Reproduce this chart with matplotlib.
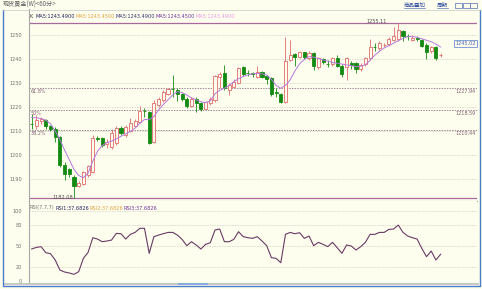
import matplotlib
matplotlib.use('Agg')
import matplotlib.pyplot as plt
from matplotlib.patches import Rectangle
from matplotlib.lines import Line2D

# 60-minute gold candles
opens = [1213.1, 1212.0, 1214.0, 1214.5, 1212.0, 1211.0, 1207.5, 1196.0, 1194.0, 1191.0,
         1187.0, 1188.0, 1191.5, 1193.0, 1207.0, 1207.0, 1204.6, 1203.5, 1204.9, 1211.4,
         1208.3, 1210.1, 1212.1, 1213.9, 1218.5, 1217.8, 1205.5, 1220.8, 1222.9, 1225.4,
         1227.5, 1227.1, 1225.4, 1223.3, 1220.5, 1223.3, 1221.5, 1219.2, 1221.8, 1222.9,
         1232.6, 1234.0, 1227.1, 1228.5, 1229.9, 1236.8, 1234.2, 1234.0, 1232.6, 1234.5,
         1232.9, 1232.0, 1226.2, 1225.4, 1222.2, 1239.6, 1242.0, 1241.0, 1242.8, 1240.3,
         1242.4, 1236.8, 1239.9, 1238.0, 1237.9, 1240.3, 1237.2, 1236.8, 1238.2, 1238.2,
         1235.8, 1237.8, 1240.3, 1245.0, 1244.5, 1245.7, 1246.1, 1247.9, 1248.3, 1251.7,
         1249.7, 1247.9, 1248.6, 1247.9, 1245.8, 1243.3, 1244.9, 1241.6]
closes = [1213.0, 1214.5, 1215.0, 1212.0, 1211.0, 1207.5, 1196.0, 1192.0, 1192.0, 1187.0,
          1188.5, 1193.0, 1195.5, 1207.0, 1206.5, 1204.0, 1205.4, 1209.2, 1211.1, 1209.0,
          1211.8, 1213.2, 1214.2, 1218.5, 1218.3, 1205.1, 1221.5, 1223.3, 1226.4, 1227.4,
          1227.4, 1225.4, 1223.3, 1220.5, 1223.3, 1221.5, 1219.0, 1221.9, 1223.3, 1232.9,
          1233.8, 1227.8, 1229.2, 1230.6, 1236.1, 1233.8, 1234.0, 1233.8, 1234.5, 1232.6,
          1231.5, 1225.4, 1226.0, 1222.2, 1239.3, 1241.7, 1240.7, 1242.8, 1240.7, 1242.4,
          1237.1, 1240.3, 1238.6, 1237.9, 1240.3, 1237.2, 1233.6, 1240.3, 1237.5, 1235.8,
          1237.5, 1240.3, 1244.9, 1244.9, 1246.5, 1245.8, 1248.3, 1249.7, 1252.1, 1249.7,
          1249.6, 1248.9, 1248.4, 1245.4, 1242.8, 1244.9, 1240.3, 1241.7]
highs = [1217.0, 1216.5, 1216.0, 1215.0, 1212.5, 1211.5, 1208.0, 1197.0, 1194.5, 1191.5,
         1189.0, 1193.5, 1196.0, 1208.5, 1208.0, 1207.5, 1206.5, 1211.0, 1212.0, 1212.0,
         1212.5, 1215.5, 1215.0, 1220.5, 1219.5, 1218.5, 1223.0, 1224.0, 1227.0, 1228.0,
         1233.3, 1227.8, 1226.0, 1224.0, 1224.0, 1224.0, 1222.0, 1222.5, 1224.0, 1233.5,
         1234.5, 1237.5, 1230.0, 1231.5, 1236.8, 1237.2, 1235.5, 1234.5, 1237.0, 1235.0,
         1233.5, 1232.5, 1228.0, 1226.0, 1249.3, 1247.9, 1242.5, 1243.5, 1243.0, 1243.5,
         1243.0, 1241.0, 1240.5, 1239.5, 1241.0, 1241.5, 1238.0, 1241.0, 1239.0, 1238.8,
         1238.5, 1241.0, 1248.3, 1246.5, 1247.5, 1246.5, 1249.0, 1253.5, 1255.11, 1252.0,
         1250.5, 1249.5, 1249.5, 1248.5, 1246.5, 1245.5, 1245.5, 1242.5]
lows = [1211.0, 1211.0, 1213.0, 1211.0, 1210.0, 1205.5, 1195.0, 1189.5, 1191.0, 1182.08,
        1186.5, 1187.5, 1191.0, 1192.5, 1206.0, 1203.5, 1203.0, 1202.5, 1204.0, 1208.5,
        1207.5, 1209.5, 1211.5, 1213.5, 1216.0, 1204.5, 1205.0, 1220.0, 1222.0, 1225.0,
        1224.0, 1222.5, 1222.5, 1219.5, 1219.8, 1218.0, 1218.5, 1219.0, 1221.0, 1222.0,
        1228.0, 1227.0, 1225.0, 1228.0, 1229.5, 1233.0, 1233.0, 1232.5, 1232.0, 1232.0,
        1229.5, 1224.5, 1224.0, 1221.5, 1221.8, 1239.0, 1237.0, 1240.5, 1240.0, 1239.5,
        1235.5, 1236.0, 1238.0, 1236.5, 1237.0, 1236.5, 1232.5, 1231.3, 1236.0, 1234.0,
        1235.0, 1237.0, 1239.5, 1243.5, 1243.8, 1245.0, 1245.5, 1247.5, 1247.5, 1247.5,
        1248.0, 1247.5, 1247.5, 1244.8, 1240.0, 1242.5, 1239.5, 1241.0]
ma5 = [1215.6, 1215.5, 1215.2, 1214.5, 1213.0, 1210.0, 1206.5, 1202.0, 1198.0, 1194.0,
       1191.5, 1190.5, 1192.5, 1197.5, 1201.5, 1204.0, 1205.1, 1205.8, 1206.7, 1207.8,
       1208.8, 1209.9, 1211.2, 1213.2, 1214.8, 1214.7, 1216.0, 1218.8, 1221.0, 1223.0,
       1225.0, 1226.4, 1226.0, 1225.0, 1223.8, 1223.0, 1222.2, 1221.8, 1222.5, 1225.5,
       1227.0, 1227.8, 1229.0, 1230.5, 1231.8, 1232.7, 1233.4, 1233.8, 1234.0, 1233.8,
       1233.3, 1231.5, 1229.0, 1227.8, 1229.0, 1231.3, 1235.0, 1238.0, 1239.8, 1241.0,
       1240.8, 1240.2, 1239.6, 1239.1, 1238.6, 1238.2, 1237.9, 1237.5, 1237.2, 1236.8,
       1237.0, 1237.6, 1239.5, 1241.6, 1243.2, 1244.6, 1245.6, 1246.6, 1247.6, 1248.6,
       1249.3, 1249.4, 1249.0, 1248.4, 1247.8, 1247.2, 1246.2, 1245.0]
rsi = [45.3, 47.6, 48.6, 40.0, 38.6, 29.6, 15.3, 12.4, 11.0, 9.1,
       12.9, 32.0, 40.5, 61.4, 59.5, 55.7, 56.7, 58.1, 67.6, 67.1,
       59.5, 66.2, 69.0, 74.8, 74.8, 39.1, 62.9, 65.2, 67.1, 69.0,
       69.0, 65.2, 59.0, 50.0, 55.7, 51.0, 45.3, 51.9, 54.3, 72.4,
       73.8, 55.7, 55.7, 59.0, 70.0, 63.0, 61.4, 60.5, 62.9, 56.7,
       50.0, 32.9, 31.9, 25.7, 66.2, 69.0, 67.1, 68.6, 60.5, 63.8,
       50.0, 54.8, 51.9, 48.6, 54.8, 47.1, 39.1, 51.0, 49.5, 43.8,
       48.6, 54.8, 66.2, 66.2, 69.0, 69.0, 73.3, 73.8, 79.5, 69.0,
       63.8, 61.4, 59.5, 46.2, 34.3, 42.4, 29.6, 37.7]

price_ticks = [1250, 1240, 1230, 1220, 1210, 1200, 1190]
rsi_ticks = [100, 80, 50, 20, 0]
fib_names = ['61.8%', '50%', '38.2%']
fib_levels = [1227.94, 1218.59, 1210.44]
high_price = 1255.11
low_price = 1182.08
last_price = 1245.02

W, H = 482, 289
bg = '#FEFEEE'
up_col = '#E06A6A'
dn_col = '#138A13'
cjk = ['Noto Sans CJK SC', 'DejaVu Sans']


def rect(x0, y0, x1, y1):
    return [x0 / W, 1 - y1 / H, (x1 - x0) / W, (y1 - y0) / H]


def ftext(x, y, s, **kw):
    fig.text(x / W, 1 - y / H, s, **kw)


def fline(xs, ys, **kw):
    fig.add_artist(Line2D([x / W for x in xs], [1 - y / H for y in ys], **kw))


fig = plt.figure(figsize=(W / 100, H / 100), dpi=100, facecolor=bg)

ax = fig.add_axes(rect(29, 9, 477, 201))
ax2 = fig.add_axes(rect(29, 201, 477, 283))
for a in (ax, ax2):
    a.set_facecolor(bg)
    for s in ('top', 'right'):
        a.spines[s].set_visible(False)
    a.spines['left'].set_color('#A8A8A8')
    a.spines['bottom'].set_color('#A8A8A8')
    a.spines['left'].set_linewidth(0.8)
    a.spines['bottom'].set_linewidth(0.8)
    a.set_xticks([])
    a.tick_params(axis='y', length=0, labelsize=3.6, labelcolor='#707070', pad=5)

n = len(closes)
xs = list(range(n))
ax.set_xlim(-0.574, 94.745)
ax2.set_xlim(-0.574, 94.745)
ax.set_ylim(1180.83, 1260.83)
ax2.set_ylim(-3.29, 113.86)

# grid
ax.set_yticks(price_ticks)
for p in price_ticks:
    ax.axhline(p, color='#DCDCCC', lw=0.6, ls=(0, (2, 1)), zorder=0)
ax2.set_yticks(rsi_ticks)
for r in [100, 80, 50, 20]:
    ax2.axhline(r, color='#DCDCCC', lw=0.6, ls=(0, (2, 1)), zorder=0)

# high / low lines
ax.axhline(high_price, color='#A86A9A', lw=0.9, zorder=1)
ax.axhline(low_price, color='#A86A9A', lw=0.9, zorder=1)
ax.text(73.5, high_price + 0.6, '%.2f' % high_price, fontsize=3.6, color='#505050',
        ha='center', va='center')
ax.text(6.6, low_price + 0.2, '%.2f' % low_price, fontsize=3.6, color='#505050',
        ha='center', va='center')

# fibonacci levels
for name, lv in zip(fib_names, fib_levels):
    ax.axhline(lv, color='#A08898', lw=0.7, ls=(0, (1.5, 1.2)), zorder=1)
    ax.text(-0.3, lv - 0.4, name, fontsize=3.5, color='#806070', ha='left', va='top')
    ax.text(94.5, lv - 0.4, '%.2f' % lv, fontsize=3.5, color='#806070', ha='right', va='top')

# candles
bw = 0.64
for i in xs:
    o, c, h, l = opens[i], closes[i], highs[i], lows[i]
    up = c >= o
    col = up_col if up else dn_col
    lo, hi = min(o, c), max(o, c)
    ax.vlines(i, l, lo, color=col, lw=0.6, zorder=2)
    ax.vlines(i, hi, h, color=col, lw=0.6, zorder=2)
    ax.bar(i, max(hi - lo, 0.12), bottom=lo, width=bw,
           facecolor=bg if up else dn_col, edgecolor=col, lw=0.6, zorder=3)

ax.plot(xs, ma5, color='#B47ADC', lw=0.7, zorder=4)

# last price box
ax.text(94.5, 1246.4, '%.2f' % last_price, fontsize=3.6, color='#4060B0', ha='right',
        va='center', bbox=dict(boxstyle='square,pad=0.25', fc=bg, ec='#7090D0', lw=0.6))

# RSI
ax2.plot(xs, rsi, color='#6A3A66', lw=0.8)

# header texts
ftext(3, 5, '现货黄金(W)<60分>', fontsize=4.4, color='#606060', va='center', family=cjk)
ftext(404, 5, '商品叠加', fontsize=4.0, color='#3050A0', va='center', family=cjk)
ftext(437, 5, '周期', fontsize=4.0, color='#3050A0', va='center', family=cjk)
fline([404, 425], [8, 8], color='#3050A0', lw=0.4)
fline([437, 448], [8, 8], color='#3050A0', lw=0.4)
for bx in (455, 462.5, 470):
    fig.add_artist(Rectangle((bx / W, 1 - 8 / H), 7 / W, 5 / H, fc=bg, ec='#5070B0', lw=0.5))

ma_labels = ['MA5:1243.4900', 'MA5:1243.4500', 'MA5:1243.4900', 'MA5:1243.4500', 'MA5:1243.4900']
ma_colors = ['#202060', '#E0A040', '#303070', '#7030A0', '#E49AE4']
ma_x = [36, 76, 116, 156, 195]
ftext(30, 16, 'K', fontsize=3.6, color='#404040', va='center')
for s, c, x in zip(ma_labels, ma_colors, ma_x):
    ftext(x, 16, s, fontsize=3.6, color=c, va='center')

rsi_labels = ['RSI(7,7,7)', 'RSI1:37.6826', 'RSI2:37.6826', 'RSI3:37.6826']
rsi_colors = ['#707070', '#202060', '#E0A040', '#7030A0']
rsi_x = [30, 56, 90, 124]
for s, c, x in zip(rsi_labels, rsi_colors, rsi_x):
    ftext(x, 208, s, fontsize=3.6, color=c, va='center')

# frame
fline([2.5, 2.5, 479.5, 479.5], [9.5, 285.5, 285.5, 9.5], color='#4A7CC8', lw=1.0)
fline([2.5, 479.5], [9.5, 9.5], color='#C8C8C8', lw=0.5)
fig.add_artist(Rectangle((3 / W, 1 - 285 / H), 476 / W, 2.5 / H, fc='#C8C8C8', ec='none'))
fig.add_artist(Rectangle((178 / W, 1 - 285 / H), 30 / W, 2.5 / H, fc='#88AADD', ec='none'))

fig.savefig('out.png', dpi=100, facecolor=bg)
